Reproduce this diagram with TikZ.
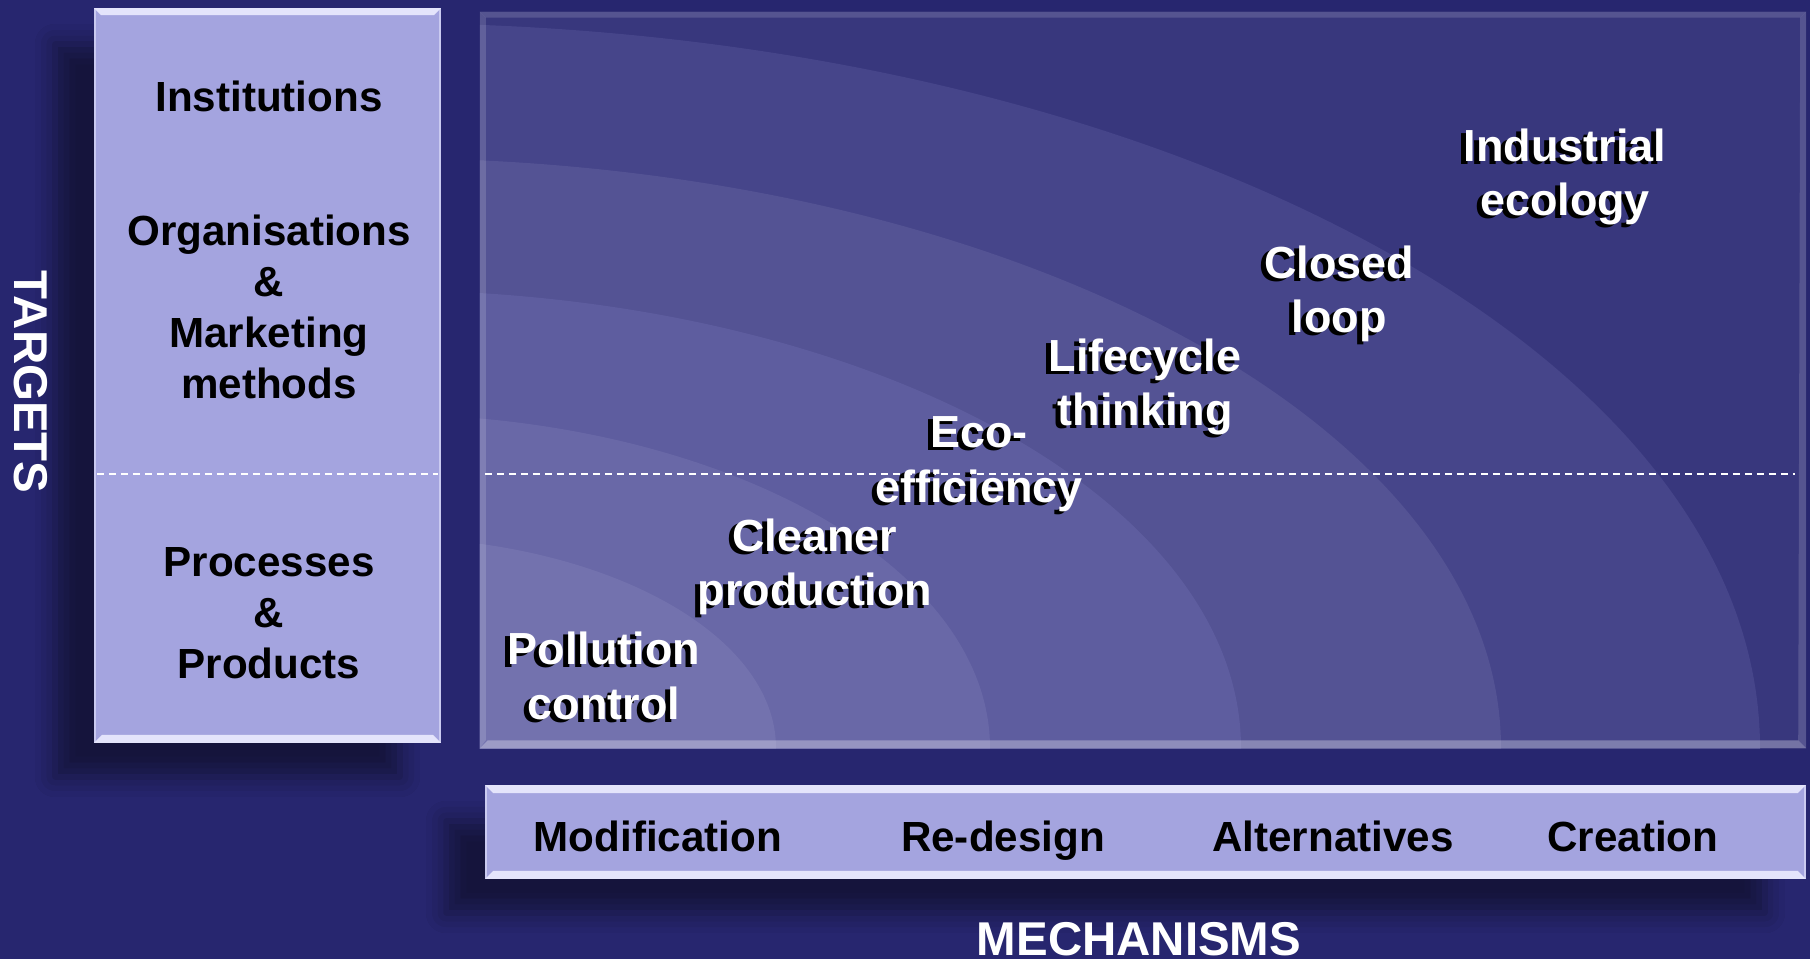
\documentclass[tikz,border=0pt]{standalone}
\usepackage{fontspec}
\setmainfont{Liberation Sans}
\usetikzlibrary{shadows.blur}
\definecolor{navy}{RGB}{39,38,111}
\definecolor{lilac}{RGB}{164,164,223}
\definecolor{rim}{RGB}{228,228,251}
\definecolor{bandA}{RGB}{56,55,125}
\definecolor{bandB}{RGB}{70,69,138}
\definecolor{bandC}{RGB}{84,83,148}
\definecolor{bandD}{RGB}{94,93,159}
\definecolor{bandE}{RGB}{105,104,167}
\definecolor{bandF}{RGB}{115,114,174}

\begin{document}
\begin{tikzpicture}[x=0.02cm, y=-0.02cm,
  box/.style={fill=lilac, draw=rim!60!lilac, line width=0.04cm, inner sep=0pt,
    blur shadow={shadow xshift=-0.8cm, shadow yshift=-0.7cm,
      shadow blur radius=0.4cm, shadow opacity=45}},
  panel/.style={fill=bandA, inner sep=0pt},
  bevel/.style={white, opacity=.15},
  boxtext/.style={font=\fontsize{24}{29}\selectfont\bfseries, align=center},
  axis/.style={font=\fontsize{27}{32}\selectfont\bfseries, text=white},
  approach/.style={font=\fontsize{25.6}{31}\selectfont\bfseries, align=center,
    text=white, inner sep=0pt},
  approachshade/.style={approach, text=black},
  divider/.style={white, dash pattern=on 0.14cm off 0.1cm, line width=0.03cm}]
\useasboundingbox (0,0) rectangle (1810,959);
\fill[navy] (0,0) rectangle (1810,959);

\node[panel, minimum width=26.52cm, minimum height=14.72cm] at (1143,380) (panel) {};
\begin{scope}
\clip (panel.north west) rectangle (panel.south east);
\fill[bandB] (380,748) ellipse [x radius=1380, y radius=725];
\fill[bandC] (380,748) ellipse [x radius=1121, y radius=590];
\fill[bandD] (380,748) ellipse [x radius=861, y radius=458];
\fill[bandE] (380,748) ellipse [x radius=610, y radius=334];
\fill[bandF] (380,748) ellipse [x radius=396, y radius=211];
\end{scope}
\fill[bevel, opacity=.3] (panel.south west) -- (panel.south east)
  -- ([shift={(-8,-8)}]panel.south east) -- ([shift={(8,-8)}]panel.south west) -- cycle;
\fill[bevel] (panel.north west) -- (panel.south west)
  -- ([shift={(6,-8)}]panel.south west) -- ([shift={(6,6)}]panel.north west) -- cycle;
\fill[bevel] (panel.north west) -- (panel.north east)
  -- ([shift={(-6,6)}]panel.north east) -- ([shift={(6,6)}]panel.north west) -- cycle;
\fill[bevel] (panel.north east) -- (panel.south east)
  -- ([shift={(-8,-8)}]panel.south east) -- ([shift={(-6,6)}]panel.north east) -- cycle;

\node[box, minimum width=6.9cm, minimum height=14.66cm] at (267.5,375.5) (tbox) {};
\fill[rim] (tbox.north west) -- (tbox.north east)
  -- ([shift={(-7,7)}]tbox.north east) -- ([shift={(7,7)}]tbox.north west) -- cycle;
\fill[rim] (tbox.south west) -- (tbox.south east)
  -- ([shift={(-8,-8)}]tbox.south east) -- ([shift={(8,-8)}]tbox.south west) -- cycle;

\node[box, minimum width=26.38cm, minimum height=1.84cm] at (1145.5,832) (mbox) {};
\fill[rim] (mbox.north west) -- (mbox.north east)
  -- ([shift={(-8,8)}]mbox.north east) -- ([shift={(8,8)}]mbox.north west) -- cycle;
\fill[rim] (mbox.south west) -- (mbox.south east)
  -- ([shift={(-8,-8)}]mbox.south east) -- ([shift={(8,-8)}]mbox.south west) -- cycle;

\coordinate (tleft) at (97,474);
\coordinate (tright) at (438,474);
\coordinate (pleft) at (485,474);
\coordinate (pright) at (1795,474);
\draw[divider] (tleft) -- (tright);
\draw[divider] (pleft) -- (pright);

\node[boxtext] at (269,96) (inst) {Institutions};
\node[boxtext] at (269,307) (org) {Organisations\\\&\\Marketing\\methods};
\node[boxtext] at (269,613) (proc) {Processes\\\&\\Products};

\node[boxtext, anchor=base] at (658,851) (modif) {Modification};
\node[boxtext, anchor=base] at (1003,851) (redes) {Re-design};
\node[boxtext, anchor=base] at (1333,851) (alter) {Alternatives};
\node[boxtext, anchor=base] at (1633,851) (creat) {Creation};

\node[axis, rotate=-90] at (31,382) (targets) {TARGETS};
\node[axis, anchor=base] at (1139,955) (mech) {MECHANISMS};

\node[approachshade] at (599,679) (pollshade) {Pollution\\control};
\node[approach] at (604,676) (poll) {Pollution\\control};
\node[approachshade] at (810,570) (cleanshade) {Cleaner\\production};
\node[approach] at (815,567) (clean) {Cleaner\\production};
\node[approachshade] at (974,467) (ecoshade) {Eco-\\efficiency};
\node[approach] at (979,464) (eco) {Eco-\\efficiency};
\node[approachshade] at (1140,390) (lifeshade) {Lifecycle\\thinking};
\node[approach] at (1145,387) (life) {Lifecycle\\thinking};
\node[approachshade] at (1334,297) (loopshade) {Closed\\loop};
\node[approach] at (1339,294) (loop) {Closed\\loop};
\node[approachshade] at (1560,180) (indshade) {Industrial\\ecology};
\node[approach] at (1565,177) (ind) {Industrial\\ecology};
\end{tikzpicture}
\end{document}
